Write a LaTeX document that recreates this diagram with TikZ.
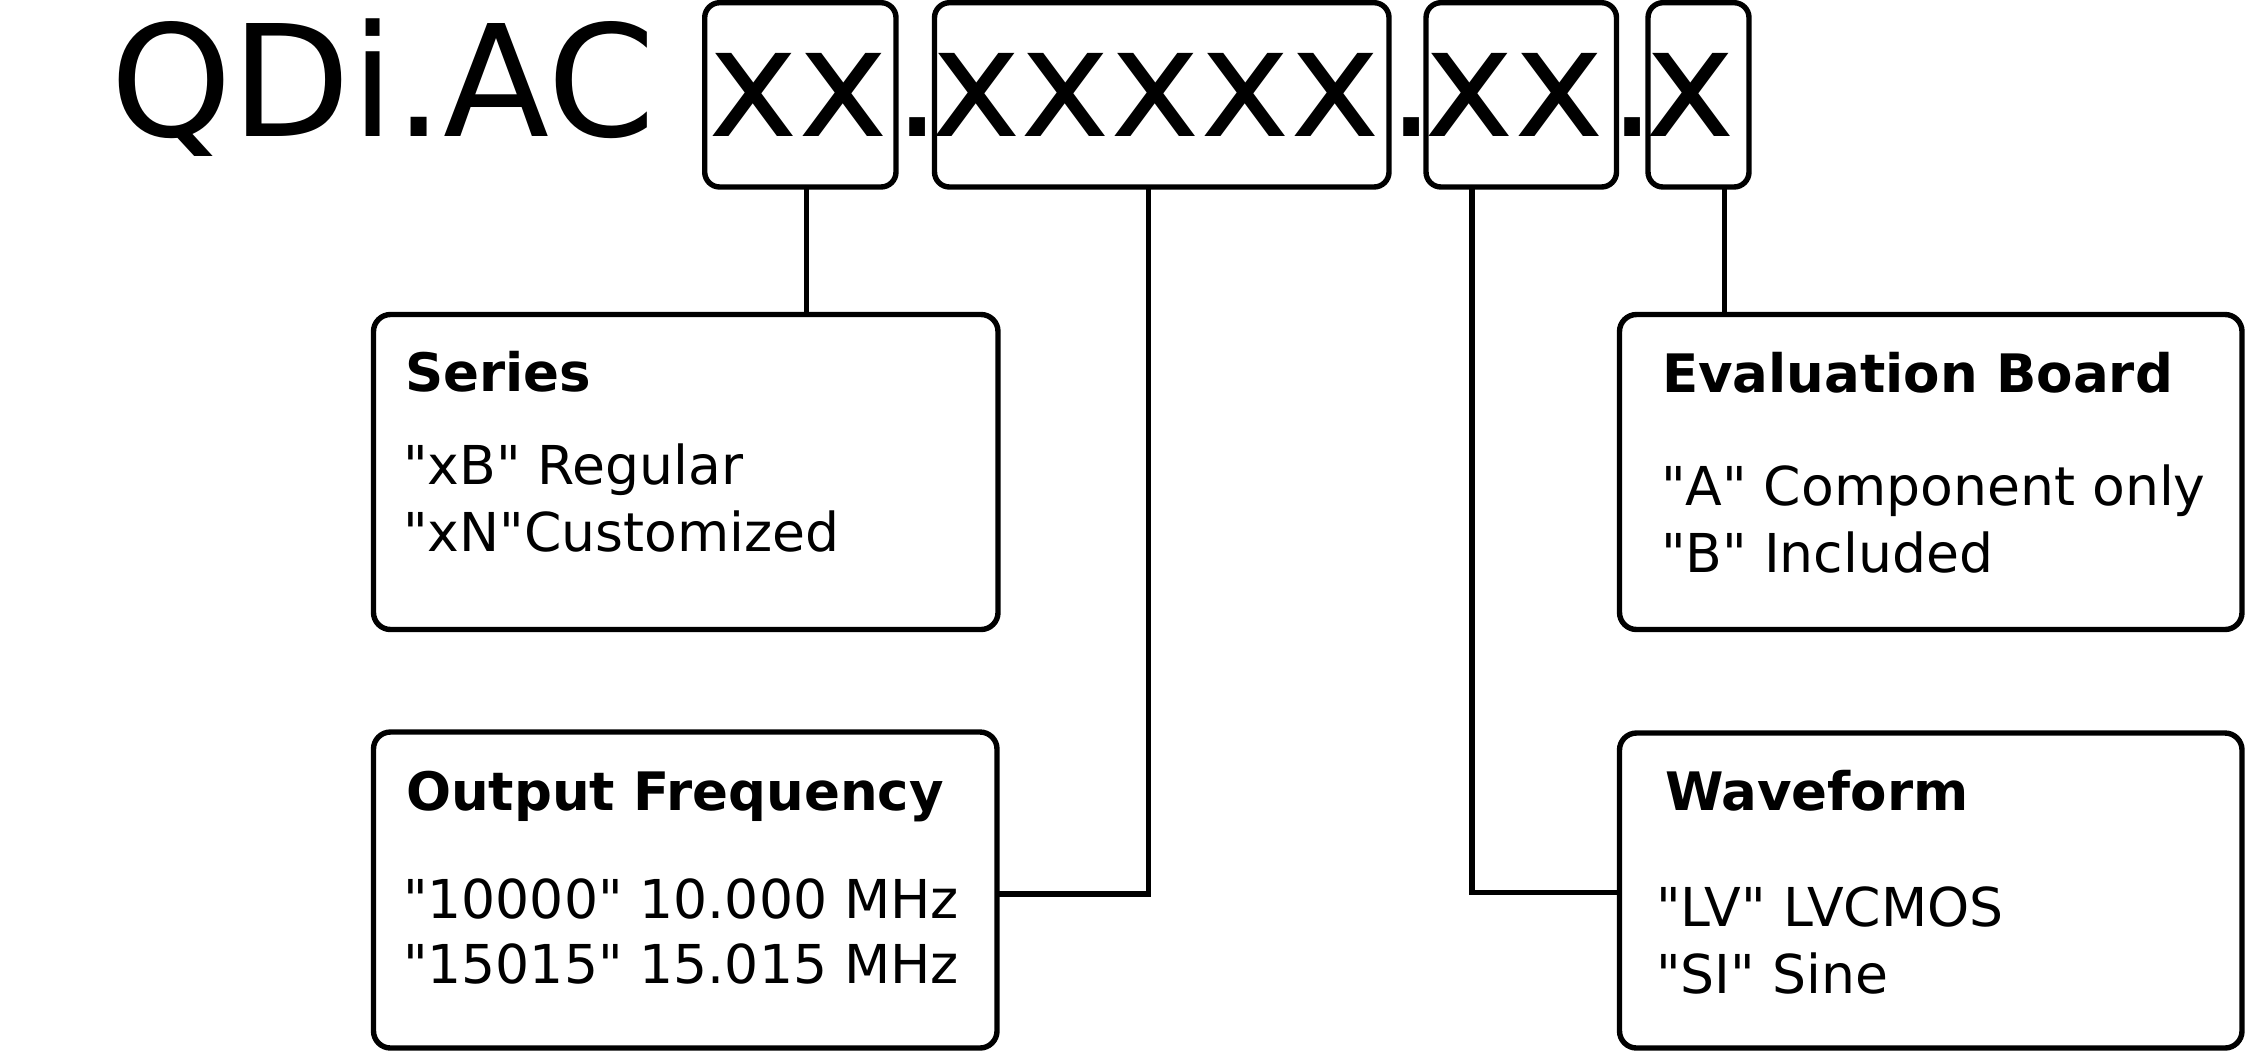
\documentclass[tikz,border=0pt]{standalone}
\usepackage{fontspec}
\setmainfont{DejaVu Sans}[Ligatures=TeXOff]
\begin{document}
\begin{tikzpicture}[x=0.5pt,y=-0.5pt,
  frame/.style={draw, line width=2.7pt, inner sep=0pt, outer sep=0pt, anchor=north west},
  topbox/.style={frame, rounded corners=7.5pt},
  infobox/.style={frame, rounded corners=8.5pt},
  bigtxt/.style={inner sep=0pt, outer sep=0pt, anchor=base west, font=\fontsize{76pt}{80pt}\selectfont},
  ttl/.style={inner sep=0pt, outer sep=0pt, anchor=base west, font=\fontsize{26.5pt}{30pt}\selectfont\bfseries},
  bdy/.style={inner sep=0pt, outer sep=0pt, anchor=base west, font=\fontsize{26.8pt}{30pt}\selectfont},
  conn/.style={line width=2.7pt}]
\useasboundingbox (0,0) rectangle (2248,1051);

% top code line
\node[bigtxt, font=\fontsize{77.5pt}{80pt}\selectfont] (qdi) at (110,136) {QDi.AC};
\node[topbox, minimum width=95.65pt, minimum height=92.15pt] (b1) at (704.7,2.7) {};
\node[topbox, minimum width=227.25pt, minimum height=92.15pt] (b2) at (934.5,2.7) {};
\node[topbox, minimum width=95.25pt, minimum height=92.15pt] (b3) at (1426,2.7) {};
\node[topbox, minimum width=50.5pt, minimum height=92.15pt] (b4) at (1648,2.7) {};
\node[bigtxt] (t1) at (708.6,136) {xx};
\node[bigtxt] (d1) at (893.5,136) {.};
\node[bigtxt] (t2) at (931,136) {xxxxx};
\node[bigtxt] (d2) at (1387,136) {.};
\node[bigtxt] (t3) at (1424.3,136) {xx};
\node[bigtxt] (d3) at (1608,136) {.};
\node[bigtxt] (t4) at (1645,136) {x};

% info boxes
\node[infobox, minimum width=312.25pt, minimum height=157.5pt] (series) at (373.5,314.5) {};
\node[infobox, minimum width=311.75pt, minimum height=158pt] (freq) at (373.5,732) {};
\node[infobox, minimum width=311.25pt, minimum height=157.5pt] (eval) at (1619.5,314.5) {};
\node[infobox, minimum width=311.25pt, minimum height=157.5pt] (wave) at (1619.5,733) {};

\node[ttl] (seriesT) at (405,391.7) {Series};
\node[bdy] (seriesA) at (403,484) {"xB" Regular};
\node[bdy] (seriesB) at (403,551) {"xN"Customized};

\node[ttl] (freqT) at (406,810) {Output Frequency};
\node[bdy] (freqA) at (403,918) {"10000" 10.000 MHz};
\node[bdy] (freqB) at (403,983.5) {"15015" 15.015 MHz};

\node[ttl] (evalT) at (1662,392) {Evaluation Board};
\node[bdy] (evalA) at (1661,505.7) {"A" Component only};
\node[bdy] (evalB) at (1661,572.3) {"B" Included};

\node[ttl] (waveT) at (1665,810) {Waveform};
\node[bdy] (waveA) at (1656,926.7) {"LV" LVCMOS};
\node[bdy] (waveB) at (1656,993.3) {"SI" Sine};

% connectors
\coordinate (c1) at (806.5,186);
\coordinate (c2) at (1148.5,186);
\coordinate (c3) at (1472,186);
\coordinate (c4) at (1724.4,186);
\draw[conn] (c1) -- (c1 |- series.north);
\draw[conn] (c2) |- ([yshift=-2pt]freq.east);
\draw[conn] (c3) |- ([yshift=-1pt]wave.west);
\draw[conn] (c4) -- (c4 |- eval.north);
\end{tikzpicture}
\end{document}
